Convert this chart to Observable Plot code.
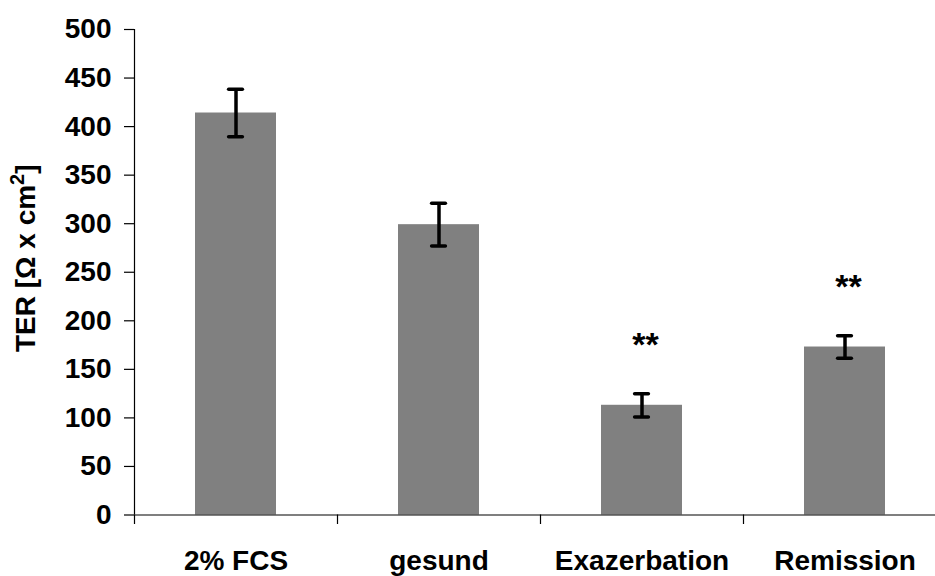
<!DOCTYPE html>
<html>
<head>
<meta charset="utf-8">
<script src="https://cdn.jsdelivr.net/npm/d3@7"></script>
<script src="https://cdn.jsdelivr.net/npm/@observablehq/plot@0.6"></script>
<style>
  html, body { margin: 0; padding: 0; background: #fff; overflow: hidden; }
</style>
</head>
<body>
<div id="chart"></div>
<script>
// Transepithelial resistance per culture condition (mean ± error)
const categories = ["2% FCS", "gesund", "Exazerbation", "Remission"];
const means = [414, 299, 113, 173];
const errors = [24.5, 22, 12, 11.5];
const significance = ["", "", "**", "**"];
const yTicks = [0, 50, 100, 150, 200, 250, 300, 350, 400, 450, 500];
const yTitleMain = "TER [Ω x cm";
const yTitleSup = "2";
const yTitleEnd = "]";
const yTitle = yTitleMain + yTitleSup + yTitleEnd;

const rows = categories.map((cat, i) => ({
  cat,
  mean: means[i],
  lo: means[i] - errors[i],
  hi: means[i] + errors[i],
  sig: significance[i]
}));

const font = "'Liberation Sans', Arial, Helvetica, sans-serif";
const xRange = [134, 946];
const step = (xRange[1] - xRange[0]) / categories.length;
const halfStep = step / 2;

const chart = Plot.plot({
  width: 935,
  height: 576,
  marginTop: 29,
  marginBottom: 61.5,
  marginLeft: 134,
  marginRight: 0,
  style: { fontFamily: font, background: "white", color: "black", overflow: "hidden" },
  x: { type: "band", domain: categories, range: xRange, paddingInner: 0.6, paddingOuter: 0.3 },
  y: { domain: [0, 500] },
  marks: [
    Plot.barY(rows, { x: "cat", y: "mean", fill: "#808080" }),
    // error bars
    Plot.ruleX(rows, { x: "cat", y1: "lo", y2: "hi", stroke: "black", strokeWidth: 3.5 }),
    Plot.tickY(rows, { x: "cat", y: "lo", stroke: "black", strokeWidth: 3.5, strokeLinecap: "round", insetLeft: 33.6, insetRight: 33.6 }),
    Plot.tickY(rows, { x: "cat", y: "hi", stroke: "black", strokeWidth: 3.5, strokeLinecap: "round", insetLeft: 33.6, insetRight: 33.6 }),
    // significance markers
    Plot.text(rows.filter(d => d.sig), {
      x: "cat", y: d => d.hi + 50, text: "sig",
      fontSize: 34, fontWeight: "bold", dx: 3.5, fill: "black"
    }),
    // axes
    Plot.ruleY([0], { stroke: "black", strokeWidth: 1.2 }),
    Plot.ruleX(categories.slice(0, 1), { x: d => d, dx: -halfStep, y1: 0, y2: 500, stroke: "black", strokeWidth: 1.2 }),
    Plot.ruleX(categories, { x: d => d, dx: -halfStep, y1: 0, y2: 0, insetBottom: -9.5, stroke: "black", strokeWidth: 1.2 }),
    Plot.axisY({
      ticks: yTicks, tickSize: 10, tickPadding: 13, tickFormat: d => String(d),
      fontSize: 28, fontWeight: "bold", label: null, stroke: "black", strokeWidth: 1.2
    }),
    Plot.axisX({
      tickSize: 0, tickPadding: 35, fontSize: 28, fontWeight: "bold", label: null
    }),
    Plot.text([yTitle], {
      frameAnchor: "left", rotate: -90, dx: -108, dy: -14,
      textAnchor: "middle", lineAnchor: "middle",
      fontSize: 28, fontWeight: "bold", fill: "black"
    })
  ]
});

// render the unit's exponent as a raised, smaller "2"
d3.select(chart).selectAll("text")
  .filter(function () { return this.textContent === yTitle; })
  .each(function () {
    const t = d3.select(this);
    t.text(null);
    t.append("tspan").text(yTitleMain);
    t.append("tspan").attr("font-size", 20).attr("dy", -11).text(yTitleSup);
    t.append("tspan").attr("dy", 11).text(yTitleEnd);
  });

document.getElementById("chart").appendChild(chart);
</script>
</body>
</html>
